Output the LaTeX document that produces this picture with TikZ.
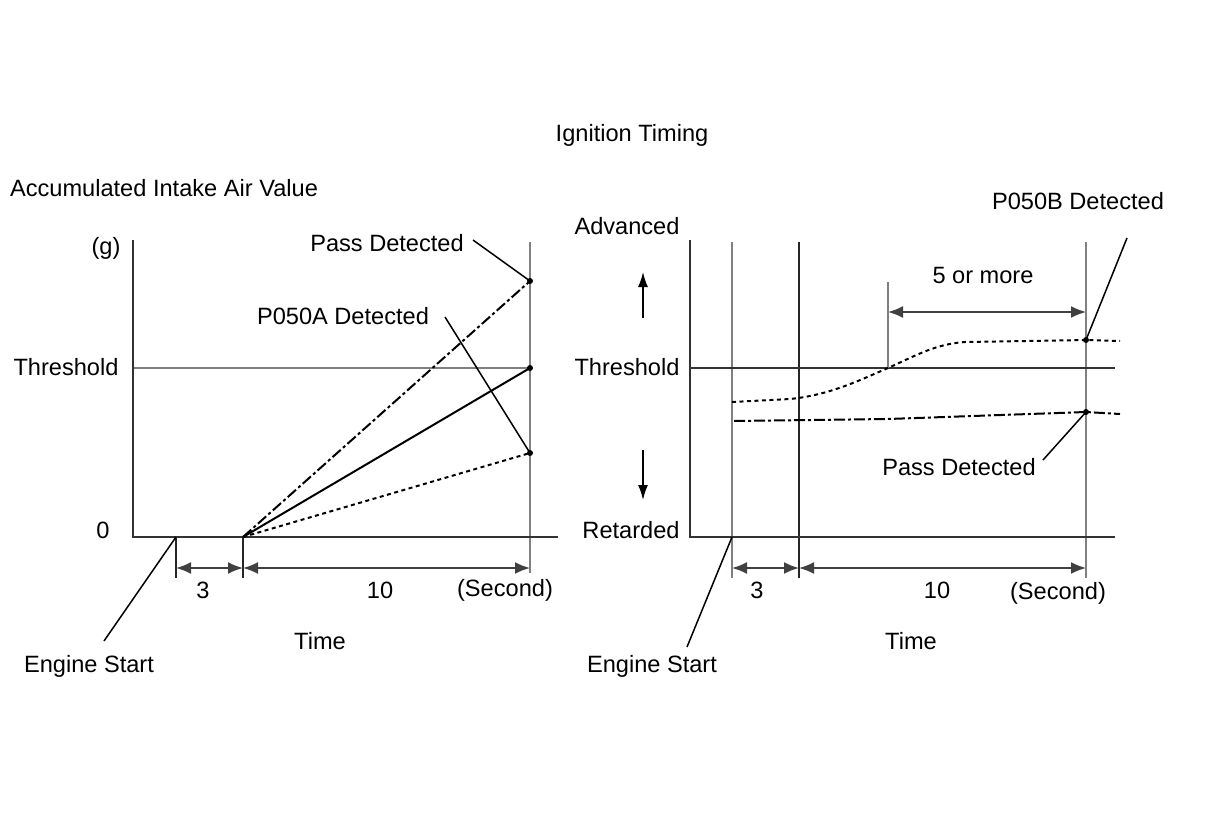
\documentclass[tikz,border=0pt]{standalone}
\usepackage{fontspec}
\setmainfont{Liberation Sans}
\usetikzlibrary{arrows.meta}
\begin{document}
\begin{tikzpicture}[x=1pt,y=-1pt,
  every node/.style={font=\fontsize{23.6}{27}\selectfont, inner sep=0pt},
  ax/.style={line width=2.6pt, black!80},
  gl/.style={line width=2.2pt, black!50},
  bl/.style={line width=1.8pt, black!85},
  lead/.style={line width=1.5pt, black},
  dots/.style={line width=2pt, dash pattern=on 4pt off 3.5pt},
  ddot/.style={line width=2pt, dash pattern=on 11pt off 3pt on 3pt off 3pt},
  dim/.style={line width=1.8pt, black!75, {Latex[length=15pt,width=12pt]}-{Latex[length=15pt,width=12pt]}},
  sarr/.style={line width=1.6pt, -{Latex[length=15pt,width=10pt]}},
  pt/.style={circle, fill=black, minimum size=6pt, inner sep=0pt}
]
\useasboundingbox (0,0) rectangle (1210,814);
\fill[white] (0,0) rectangle (1210,814);

% titles
\node (title) at (632,135) {Ignition Timing};
\node (ylab) at (164,188) {Accumulated Intake Air Value};

% ===== left chart =====
\coordinate (LO) at (133,537);
\coordinate (Ltop) at (133,240);
\coordinate (Lxe) at (558,537);
\draw[gl] (133,368) -- (530,368);
\draw[gl] (530,242) -- (530,573);
\draw[bl] (176,537) -- (176,578);
\draw[bl] (243,537) -- (243,578);
\draw[ax] (Ltop) -- (LO) -- (Lxe);

\node (g) at (106,248) {(g)};
\node (thL) at (66,367) {Threshold};
\node (zero) at (103,530) {0};

\coordinate (S) at (243,537);
\node[pt] (pA) at (530,281) {};
\node[pt] (pB) at (530,368) {};
\node[pt] (pC) at (530,453) {};
\draw[ddot] (S) -- (pA.center);
\draw[line width=2pt] (S) -- (pB.center);
\draw[dots] (S) -- (pC.center);

\node (passL) at (387,243) {Pass Detected};
\coordinate (passLe) at (473,240);
\draw[lead] (passLe) -- (pA.center);
\node (p50a) at (343,316) {P050A Detected};
\coordinate (p50ae) at (445,317);
\draw[lead] (p50ae) -- (pC.center);

\coordinate (a1) at (176,568);
\coordinate (a2) at (243,568);
\coordinate (a3) at (530,568);
\draw[dim] (a1) -- (a2);
\draw[dim] (a2) -- (a3);
\node (t3L) at (203,590) {3};
\node (t10L) at (380,590) {10};
\node (secL) at (505,590) {(Second)};
\node (timeL) at (320,641) {Time};
\node (esL) at (89,666) {Engine Start};
\coordinate (esLe) at (104,641);
\draw[lead] (esLe) -- (176,537);

% ===== right chart =====
\draw[gl] (732,242) -- (732,578);
\draw[bl] (799,242) -- (799,578);
\draw[gl] (1086,242) -- (1086,578);
\draw[ax] (690,368) -- (1115,368);
\draw[ax] (690,240) -- (690,537) -- (1115,537);
\draw[gl] (888,282) -- (888,368);

\node (adv) at (627,226) {Advanced};
\node (thR) at (627,367) {Threshold};
\node (ret) at (631,530) {Retarded};
\coordinate (u1) at (643,318);
\coordinate (u2) at (643,272);
\coordinate (d1) at (643,450);
\coordinate (d2) at (643,500);
\draw[sarr] (u1) -- (u2);
\draw[sarr] (d1) -- (d2);

\node[pt] (qA) at (1086,340) {};
\node[pt] (qB) at (1086,412) {};
\draw[dots] (732,402) -- (790,399) .. controls (830,395) and (860,380) .. (888,368)
  .. controls (915,356) and (935,344) .. (965,342) -- (qA.center) -- (1120,341);
\draw[ddot] (734,421) -- (888,419) -- (qB.center) -- (1120,414);

\coordinate (f1) at (888,312);
\coordinate (f2) at (1086,312);
\draw[dim] (f1) -- (f2);
\node (five) at (983,275) {5 or more};

\node (p50b) at (1078,201) {P050B Detected};
\coordinate (p50be) at (1127,238);
\draw[lead] (p50be) -- (qA.center);
\node (passR) at (959,467) {Pass Detected};
\coordinate (passRe) at (1043,460);
\draw[lead] (passRe) -- (qB.center);

\coordinate (b1) at (732,568);
\coordinate (b2) at (799,568);
\coordinate (b3) at (1086,568);
\draw[dim] (b1) -- (b2);
\draw[dim] (b2) -- (b3);
\node (t3R) at (757,590) {3};
\node (t10R) at (937,590) {10};
\node (secR) at (1058,593) {(Second)};
\node (timeR) at (911,641) {Time};
\node (esR) at (652,666) {Engine Start};
\coordinate (esRe) at (687,647);
\draw[lead] (esRe) -- (732,537);
\end{tikzpicture}
\end{document}
